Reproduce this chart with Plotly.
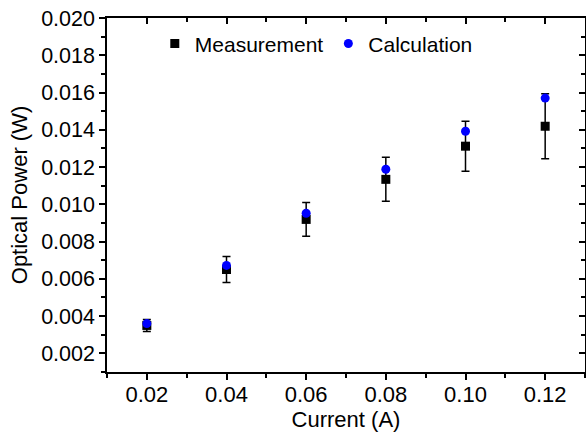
import plotly.graph_objects as go

current = [0.02, 0.04, 0.06, 0.08, 0.10, 0.12]
measurement = [0.00350, 0.00650, 0.00919, 0.01134, 0.01312, 0.01419]
measurement_err = [0.00032, 0.00070, 0.00091, 0.00118, 0.00134, 0.00175]
calculation = [0.00360, 0.00672, 0.00952, 0.01188, 0.01392, 0.01570]
x_ticks = [0.02, 0.04, 0.06, 0.08, 0.10, 0.12]
x_ticktext = ["0.02", "0.04", "0.06", "0.08", "0.10", "0.12"]
x_minor = [0.01, 0.03, 0.05, 0.07, 0.09, 0.11, 0.13]

FONT = "Liberation Sans, Arial, sans-serif"

fig = go.Figure()
fig.add_trace(go.Scatter(
    x=current, y=measurement, mode="markers", name="Measurement",
    marker=dict(symbol="square", size=9, color="black"),
    error_y=dict(type="data", array=measurement_err, visible=True,
                 color="black", thickness=1.5, width=4),
))
fig.add_trace(go.Scatter(
    x=current, y=calculation, mode="markers", name="Calculation",
    marker=dict(symbol="circle", size=9, color="#0000FF"),
))
# invisible trace to activate mirrored axes (top/right with inward ticks)
fig.add_trace(go.Scatter(x=[current[0]], y=[measurement[0]], xaxis="x2", yaxis="y2",
                         mode="markers", marker=dict(opacity=0), showlegend=False,
                         hoverinfo="skip"))

common = dict(showgrid=False, zeroline=False, showline=True, linecolor="black",
              linewidth=1.5, tickcolor="black", tickwidth=1.5)

fig.update_layout(
    width=586, height=437,
    margin=dict(l=107, r=1, t=18, b=65, autoexpand=False),
    paper_bgcolor="white", plot_bgcolor="white",
    font=dict(family=FONT, color="black"),
    showlegend=True,
    legend=dict(orientation="h", x=0.1, y=0.985, xanchor="left", yanchor="top",
                font=dict(size=21, family=FONT), bgcolor="rgba(0,0,0,0)",
                itemwidth=30, tracegroupgap=0),
    xaxis=dict(range=[0.01, 0.13], tickvals=x_ticks, ticktext=x_ticktext,
               ticks="outside", ticklen=6, ticklabelstandoff=-4, mirror=True,
               ticklabeloverflow="allow",
               minor=dict(tickvals=x_minor, ticks="outside", ticklen=4,
                          tickcolor="black", tickwidth=1.5),
               tickfont=dict(size=22),
               title=dict(text="Current (A)", font=dict(size=22), standoff=3),
               **common),
    yaxis=dict(range=[0.001, 0.020], dtick=0.002, tick0=0.002, tickformat=".3f",
               ticks="outside", ticklen=6, mirror=True, ticklabeloverflow="allow",
               minor=dict(dtick=0.001, tick0=0.001, ticks="outside", ticklen=4,
                          tickcolor="black", tickwidth=1.5),
               tickfont=dict(size=21.5),
               title=dict(text="Optical Power (W)", font=dict(size=22), standoff=7),
               **common),
    xaxis2=dict(overlaying="x", side="top", matches="x", showticklabels=False,
                tickvals=x_ticks, ticks="inside", ticklen=6,
                minor=dict(tickvals=x_minor, ticks="inside", ticklen=4,
                           tickcolor="black", tickwidth=1.5),
                **common),
    yaxis2=dict(overlaying="y", side="right", matches="y", showticklabels=False,
                dtick=0.002, tick0=0.002, ticks="inside", ticklen=6,
                minor=dict(dtick=0.001, tick0=0.001, ticks="inside", ticklen=4,
                           tickcolor="black", tickwidth=1.5),
                **common),
)

fig.write_html(
    "out.html",
    config={"displayModeBar": False},
    post_script="document.body.style.margin='0';document.body.style.padding='0';",
)
